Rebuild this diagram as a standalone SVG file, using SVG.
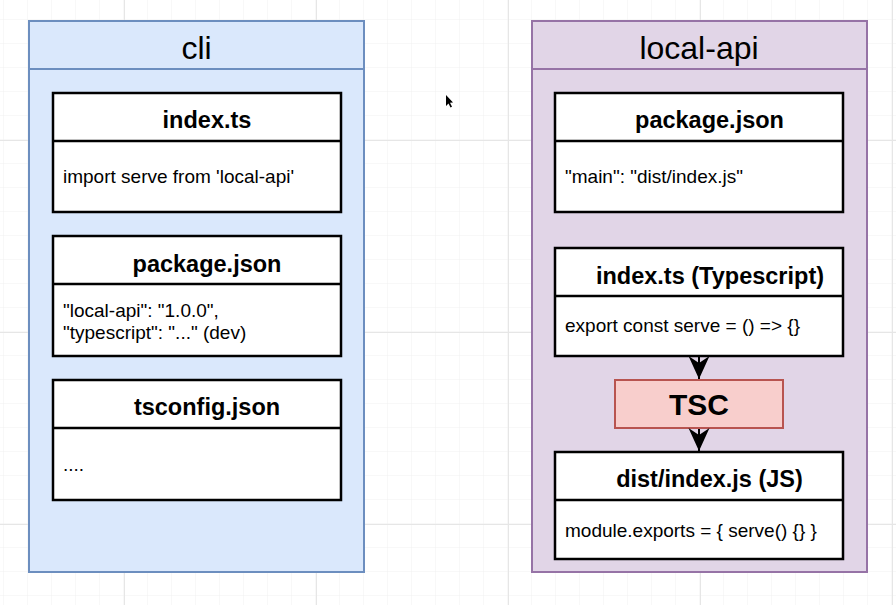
<svg xmlns="http://www.w3.org/2000/svg" width="896" height="605" viewBox="0 0 896 605">
  <defs>
    <pattern id="minor" width="24" height="24" patternUnits="userSpaceOnUse" x="4" y="20">
      <path d="M24 0 V24 M0 24 H24" fill="none" stroke="#f1f1f1" stroke-width="1"/>
    </pattern>
    <pattern id="major" width="192" height="192" patternUnits="userSpaceOnUse" x="124" y="140">
      <path d="M0.5 0 V192 M0 0.5 H192" fill="none" stroke="#e6e6e6" stroke-width="1"/>
    </pattern>
    <marker id="arrow" viewBox="0 0 24 22" refX="23" refY="11" markerWidth="24" markerHeight="22" markerUnits="userSpaceOnUse" orient="auto">
      <path d="M23 11 L0 0.5 L7 11 L0 21.5 Z" fill="#000"/>
    </marker>
    <style>
      .cont-cli { fill: #dae8fc; stroke: #6c8ebf; stroke-width: 2; }
      .cont-api { fill: #e1d5e7; stroke: #9673a6; stroke-width: 2; }
      .box { fill: #ffffff; stroke: #000000; stroke-width: 2.5; }
      .sep { stroke: #000000; stroke-width: 2.5; }
      .title { font-family: "Liberation Sans", Arial, sans-serif; font-size: 32px; fill: #000; text-anchor: middle; }
      .head { font-family: "Liberation Sans", Arial, sans-serif; font-size: 23.5px; font-weight: bold; fill: #000; text-anchor: middle; }
      .body { font-family: "Liberation Sans", Arial, sans-serif; font-size: 19px; fill: #000; }
      .conn { stroke: #000; stroke-width: 2; fill: none; }
    </style>
  </defs>

  <rect width="896" height="605" fill="#ffffff"/>
  <rect width="896" height="605" fill="url(#minor)"/>
  <rect width="896" height="605" fill="url(#major)"/>

  <g id="cli">
    <rect class="cont-cli" x="29" y="21" width="335" height="551"/>
    <line x1="29" y1="69" x2="364" y2="69" stroke="#6c8ebf" stroke-width="2"/>
    <text class="title" x="196.5" y="59">cli</text>
  </g>

  <g id="cli-index-ts">
    <rect class="box" x="53" y="93" width="288" height="119"/>
    <line class="sep" x1="53" y1="141" x2="341" y2="141"/>
    <text class="head" x="207" y="128">index.ts</text>
    <text class="body" x="63" y="183">import serve from 'local-api'</text>
  </g>

  <g id="cli-package-json">
    <rect class="box" x="53" y="236" width="288" height="120"/>
    <line class="sep" x1="53" y1="284" x2="341" y2="284"/>
    <text class="head" x="207" y="272">package.json</text>
    <text class="body" x="63" y="317">"local-api": "1.0.0",</text>
    <text class="body" x="63" y="339">"typescript": "..." (dev)</text>
  </g>

  <g id="cli-tsconfig-json">
    <rect class="box" x="53" y="380" width="288" height="120"/>
    <line class="sep" x1="53" y1="428" x2="341" y2="428"/>
    <text class="head" x="207" y="415">tsconfig.json</text>
    <text class="body" x="63" y="471">....</text>
  </g>

  <g id="local-api">
    <rect class="cont-api" x="532" y="21" width="335" height="551"/>
    <line x1="532" y1="69" x2="867" y2="69" stroke="#9673a6" stroke-width="2"/>
    <text class="title" x="699" y="59">local-api</text>
  </g>

  <g id="api-package-json">
    <rect class="box" x="555" y="93" width="288" height="119"/>
    <line class="sep" x1="555" y1="141" x2="843" y2="141"/>
    <text class="head" x="709.5" y="128">package.json</text>
    <text class="body" x="565" y="183">"main": "dist/index.js"</text>
  </g>

  <g id="api-index-ts">
    <rect class="box" x="555" y="248" width="288" height="108"/>
    <line class="sep" x1="555" y1="296" x2="843" y2="296"/>
    <text class="head" x="710" y="284">index.ts (Typescript)</text>
    <text class="body" x="565" y="332">export const serve = () =&gt; {}</text>
  </g>

  <g id="tsc">
    <rect x="615" y="380" width="168" height="48" fill="#f8cecc" stroke="#b85450" stroke-width="2"/>
    <text x="699" y="415" font-family="'Liberation Sans', Arial, sans-serif" font-size="30" font-weight="bold" text-anchor="middle" fill="#000">TSC</text>
  </g>

  <g id="api-dist-index-js">
    <rect class="box" x="555" y="452" width="288" height="107"/>
    <line class="sep" x1="555" y1="500" x2="843" y2="500"/>
    <text class="head" x="709.5" y="487">dist/index.js (JS)</text>
    <text class="body" x="565" y="537">module.exports = { serve() {} }</text>
  </g>

  <g id="connectors">
    <line class="conn" x1="699" y1="357" x2="699" y2="379" marker-end="url(#arrow)"/>
    <line class="conn" x1="699" y1="429" x2="699" y2="451" marker-end="url(#arrow)"/>
  </g>

  <path d="M446 95 L446 106 L448.5 103.5 L450.5 107.5 L452 106.8 L450 102.8 L453 102.5 Z" fill="#000"/>
</svg>
